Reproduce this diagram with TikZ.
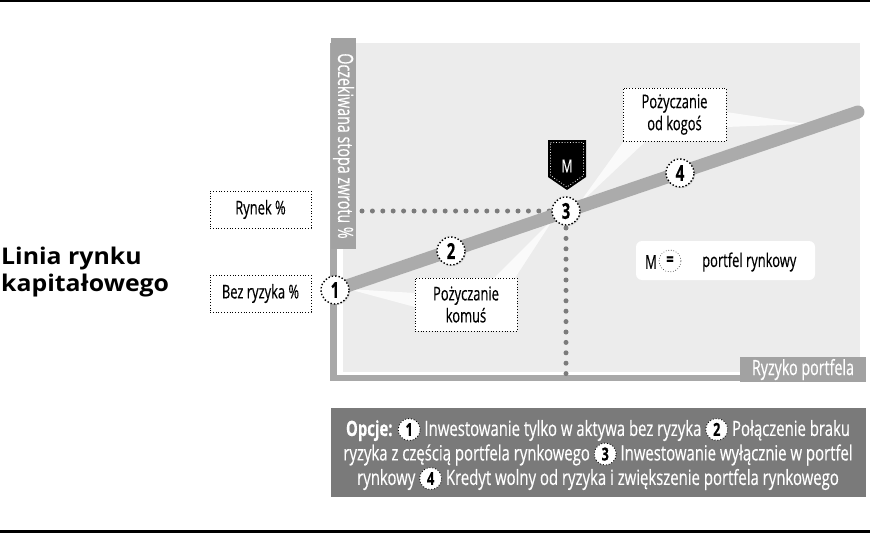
\documentclass[tikz,border=0pt]{standalone}
\usepackage{fontspec}
\setmainfont{Open Sans}[FakeStretch=0.68,FakeBold=0.35]
\newfontfamily\optfont{Open Sans}[FakeStretch=0.71,FakeBold=0.3]
\newfontfamily\titlefont{Open Sans}[FakeStretch=1.08]
\usetikzlibrary{shadows}
\definecolor{bgg}{HTML}{ECECEC}
\definecolor{axg}{HTML}{A8A8A8}
\definecolor{bandg}{HTML}{A2A2A2}
\definecolor{lineg}{HTML}{ABABAB}
\definecolor{dotg}{HTML}{7B7B7B}
\definecolor{optg}{HTML}{7A7A7A}
\newcommand\onum[1]{\tikz[baseline=(o.base)]\node[circle,draw=black,dotted,line width=0.9pt,fill=white,text=black,inner sep=0pt,minimum size=22pt,font=\bfseries\fontsize{18}{18}\selectfont](o){#1};}
\tikzset{
  lbl/.style={draw=black, line width=0.8pt, dotted, fill=white, align=center, inner sep=0pt,
    font=\fontsize{19}{22}\selectfont},
  num/.style={circle, draw=black, line width=1.4pt, dotted, fill=white, minimum size=28pt, inner sep=0pt,
    font=\bfseries\fontsize{22}{22}\selectfont, drop shadow={opacity=0.25,shadow xshift=1pt,shadow yshift=-1pt}},
  dotline/.style={dotg, line width=5pt, line cap=round, dash pattern=on 0pt off 10.4pt},
  wedge/.style={fill=white, fill opacity=0.75, draw=none},
}
\begin{document}
\begin{tikzpicture}[x=1pt,y=-1pt]
\useasboundingbox (0,0) rectangle (870,535);
% rules
\fill[black] (0,0) rectangle (870,2.5);
\fill[black] (0,530) rectangle (870,533);
% plot background
\fill[bgg] (343,43) rectangle (860,372);
\fill[white] (337,43) rectangle (343,375);
\fill[white] (337,372) rectangle (860,375);
% axes
\fill[axg] (330,43) rectangle (337,381);
\fill[axg] (330,375) rectangle (860,381);
\fill[bandg] (331,38) rectangle (356,249);
\node[rotate=-90, text=white, anchor=center, font=\fontsize{21}{21}\selectfont] (ylab) at (343.5,146) {Oczekiwana stopa zwrotu \%};
\fill[bandg] (740,357) rectangle (866,382);
\node[text=white, font=\fontsize{21}{21}\selectfont] (xlab) at (803,369.5) {Ryzyko portfela};
% dotted guides
\coordinate (hd0) at (362,211);
\coordinate (hd1) at (550,211);
\coordinate (vd0) at (566,228);
\coordinate (vd1) at (566,378);
\draw[dotline] (hd0) -- (hd1);
\draw[dotline] (vd0) -- (vd1);
% wedges
\fill[wedge] (348,289) -- (415,293) -- (415,307) -- cycle;
\fill[wedge] (554,218) -- (494,278) -- (515,278) -- cycle;
\fill[wedge] (578,205) -- (624,141) -- (646,141) -- cycle;
\fill[wedge] (726,112) -- (806,124) -- (726,127) -- cycle;
% capital market line
\coordinate (l0) at (335,290);
\coordinate (l1) at (858,112);
\draw[lineg, line width=13pt, line cap=round] (l0) -- (l1);
% label boxes
\node[lbl, minimum width=101pt, minimum height=37pt] (rynek) at (260.5,209.5) {Rynek \%};
\node[lbl, minimum width=101pt, minimum height=37pt] (bez) at (260.5,293.5) {Bez ryzyka \%};
\node[lbl, minimum width=102pt, minimum height=53pt] (komus) at (466,304.5) {Pożyczanie\\komuś};
\node[lbl, minimum width=103pt, minimum height=53pt] (kogos) at (674.5,114.5) {Pożyczanie\\od kogoś};
% M badge
\fill[black] (548,140) -- (586,140) -- (586,177) -- (567,190) -- (548,177) -- cycle;
\draw[white, line width=0.8pt, dotted] (550.5,142.5) -- (583.5,142.5) -- (583.5,175.5) -- (567,187) -- (550.5,175.5) -- cycle;
\node[text=white, font=\fontsize{18}{18}\selectfont] (mlab) at (567,166) {M};
% numbered circles
\node[num] (n1) at (335,290) {1};
\node[num] (n2) at (451,251) {2};
\node[num] (n3) at (566,211) {3};
\node[num] (n4) at (680,173) {4};
% legend
\node[fill=white, rounded corners=6pt, minimum width=179pt, minimum height=39pt] (leg) at (725.5,260.5) {};
\node[font=\fontsize{19}{19}\selectfont] (legm) at (651,262) {M};
\node[circle, draw=black, line width=0.6pt, dotted, minimum size=22pt, inner sep=0pt, font=\bfseries\fontsize{19}{19}\selectfont] (legeq) at (670,261) {=};
\node[font=\fontsize{19}{19}\selectfont, anchor=west, inner sep=0pt] (legt) at (702,262) {portfel rynkowy};
% title
\node[anchor=base west, align=left, font=\titlefont\bfseries\fontsize{23}{27}\selectfont, inner sep=0pt] (title) at (1,291) {Linia rynku\\kapitałowego};
% options box
\fill[optg] (331,408) rectangle (866,497);
\node[text=white, align=center, font=\optfont\fontsize{21}{23.5}\selectfont] (opts) at (598,454)
 {\textbf{Opcje:} \onum{1} Inwestowanie tylko w aktywa bez ryzyka \onum{2} Połączenie braku\\[1pt]
  ryzyka z częścią portfela rynkowego \onum{3} Inwestowanie wyłącznie w portfel\\[1pt]
  rynkowy \onum{4} Kredyt wolny od ryzyka i zwiększenie portfela rynkowego};
\end{tikzpicture}
\end{document}
